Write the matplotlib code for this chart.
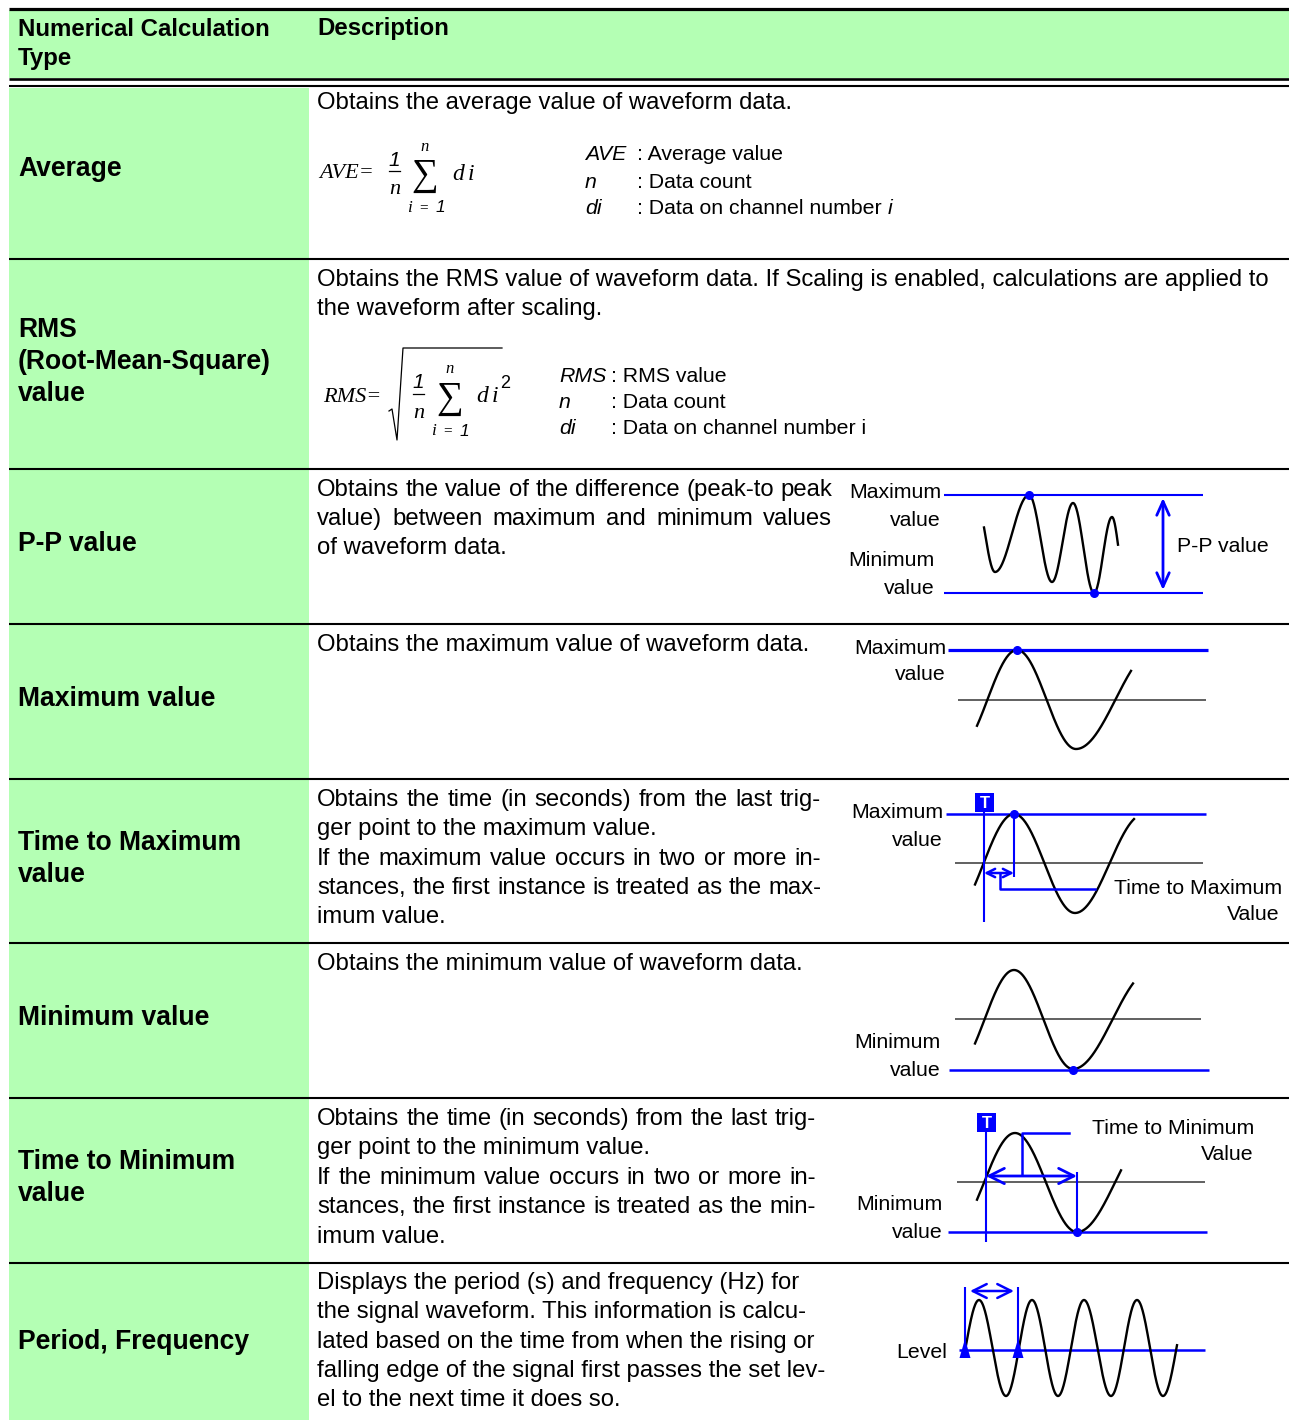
import numpy as np
import matplotlib
matplotlib.use('Agg')
import matplotlib.pyplot as plt
from matplotlib.patches import Rectangle

W, H = 1289, 1420
GREEN = '#b4ffb4'
BLUE = '#0000ff'
GRAY = '#606060'
SANS = 'Liberation Sans'
SERIF = ['Liberation Serif', 'DejaVu Serif']
DY = 2  # vertical nudge for centred text

# ---------------- table content ----------------
header_left = ["Numerical Calculation", "Type"]
header_left_y = [27, 56]
header_right = "Description"

row_bounds = [87, 258.5, 468.5, 623.5, 778.5, 942.5, 1097.5, 1262.5, 1420]

row_labels = [["Average"], ["RMS", "(Root-Mean-Square)", "value"], ["P-P value"],
              ["Maximum value"], ["Time to Maximum", "value"], ["Minimum value"],
              ["Time to Minimum", "value"], ["Period, Frequency"]]
row_label_y = [[167], [328, 360, 392], [542], [697], [841, 873], [1016],
               [1160, 1192], [1340]]

desc_text = [
    "Obtains the average value of waveform data.",
    "Obtains the RMS value of waveform data. If Scaling is enabled, calculations are applied to",
    "the waveform after scaling.",
    "Obtains the value of the difference (peak-to peak",
    "value) between maximum and minimum values",
    "of waveform data.",
    "Obtains the maximum value of waveform data.",
    "Obtains the time (in seconds) from the last trig-",
    "ger point to the maximum value.",
    "If the maximum value occurs in two or more in-",
    "stances, the first instance is treated as the max-",
    "imum value.",
    "Obtains the minimum value of waveform data.",
    "Obtains the time (in seconds) from the last trig-",
    "ger point to the minimum value.",
    "If the minimum value occurs in two or more in-",
    "stances, the first instance is treated as the min-",
    "imum value.",
    "Displays the period (s) and frequency (Hz) for",
    "the signal waveform. This information is calcu-",
    "lated based on the time from when the rising or",
    "falling edge of the signal first passes the set lev-",
    "el to the next time it does so.",
]
desc_y = [101, 278, 307, 488, 517, 546, 643, 798, 827, 857, 886, 915, 962,
          1117, 1146, 1176, 1205, 1235, 1281, 1310, 1340, 1369, 1398]
desc_right = [None, None, None, 832, 832, None, None, 821, None, 821, 821, None,
              None, 816, None, 816, 816, None, None, None, None, None, None]

ave_legend_sym = ["AVE", "n", "di"]
ave_legend_txt = [": Average value", ": Data count", ": Data on channel number"]
ave_legend_y = [153, 181, 207]
rms_legend_sym = ["RMS", "n", "di"]
rms_legend_txt = [": RMS value", ": Data count", ": Data on channel number i"]
rms_legend_y = [374, 401, 427]

# ---------------- diagram waveform key points (extrema) ----------------
pp_ex = [975, 995, 1029, 1052, 1073, 1094, 1112, 1125]
pp_ey = [495, 572, 495, 582, 503, 593, 517, 580]
pp_clip = [984, 1118]
max_ex = [958, 1017, 1076, 1155]
max_ey = [749, 650, 749, 650]
max_clip = [977, 1131]
tmax_ex = [953, 1014, 1075, 1144]
tmax_ey = [913, 814, 913, 814]
tmax_clip = [975, 1134]
min_ex = [955, 1014, 1073, 1152]
min_ey = [1069, 970, 1069, 970]
min_clip = [975, 1133]
tmin_ex = [953, 1015, 1077, 1153]
tmin_ey = [1232, 1133, 1232, 1133]
tmin_clip = [977, 1121]
per_ex = [952, 979, 1006, 1032, 1058, 1084, 1111, 1137, 1163, 1190]
per_ey = [1396, 1300, 1396, 1300, 1396, 1300, 1396, 1300, 1396, 1300]
per_clip = [965, 1177]

# ---------------- figure ----------------
fig = plt.figure(figsize=(W / 100, H / 100), dpi=100)
ax = fig.add_axes([0, 0, 1, 1])
ax.set_xlim(0, W)
ax.set_ylim(H, 0)
ax.axis('off')
renderer = fig.canvas.get_renderer()

BODY = 17.2
LAB = 19.1
HEAD = 17.3
DIAG = 15.3
LEG = 15.3

# header
ax.add_patch(Rectangle((9, 10), W - 9, 68, facecolor=GREEN, edgecolor='none'))
ax.plot([9, W], [8.5, 8.5], color='black', lw=2.3, solid_capstyle='butt')
ax.plot([9, W], [79, 79], color='black', lw=1.9, solid_capstyle='butt')
ax.plot([9, W], [86.3, 86.3], color='black', lw=1.5, solid_capstyle='butt')
for t, y in zip(header_left, header_left_y):
    ax.text(18, y + DY, t, fontsize=HEAD, fontweight='bold', family=SANS, va='center', ha='left')
ax.text(317, header_left_y[0] + DY, header_right, fontsize=HEAD, fontweight='bold', family=SANS,
        va='center', ha='left')

# rows
for i in range(len(row_labels)):
    top, bot = row_bounds[i], row_bounds[i + 1]
    ax.add_patch(Rectangle((9, top + 1), 300, bot - top - 1, facecolor=GREEN, edgecolor='none'))
    for t, y in zip(row_labels[i], row_label_y[i]):
        ax.text(18, y + DY, t, fontsize=LAB, fontweight='bold', family=SANS, va='center', ha='left')
for b in row_bounds[1:-1]:
    ax.plot([9, W], [b, b], color='black', lw=1.5, solid_capstyle='butt')


def text_width(s, **kw):
    t = ax.text(0, 0, s, **kw)
    w = t.get_window_extent(renderer).width
    t.remove()
    return w


def draw_line(x, y, s, right, **kw):
    if right is None:
        ax.text(x, y, s, **kw)
        return
    words = s.split(' ')
    widths = [text_width(w, **kw) for w in words]
    gap = (right - x - sum(widths)) / (len(words) - 1)
    cx = x
    for w, wd in zip(words, widths):
        ax.text(cx, y, w, **kw)
        cx += wd + gap


for s, y, r in zip(desc_text, desc_y, desc_right):
    draw_line(317, y + DY, s, r, fontsize=BODY, family=SANS, va='center', ha='left')

# ---------------- formulas ----------------
def serif_it(x, y, s, size, ha='center'):
    ax.text(x, y + DY, s, fontsize=size, family=SERIF, style='italic', va='center', ha=ha)


def sans_it(x, y, s, size, ha='center'):
    ax.text(x, y + DY, s, fontsize=size, family=SANS, style='italic', va='center', ha=ha)


def plain(x, y, s, size, ha='center', family=SERIF):
    ax.text(x, y + DY, s, fontsize=size, family=family, va='center', ha=ha)


# Average
serif_it(319, 172, "AVE=", 16, ha='left')
sans_it(394, 158, "1", 15)
ax.plot([389, 400], [171, 171], color='black', lw=0.9)
serif_it(395, 188, "n", 16)
plain(425, 174, "\u2211", 27)
serif_it(425, 145, "n", 12)
serif_it(409, 206, "i", 12.5)
plain(424, 206, "=", 11)
sans_it(440, 206, "1", 12.5)
serif_it(452, 172, "d", 17, ha='left')
serif_it(468, 172, "i", 17, ha='left')

for s, t, y in zip(ave_legend_sym, ave_legend_txt, ave_legend_y):
    sans_it(585, y, s, LEG, ha='left')
    plain(637, y, t, LEG, ha='left', family=SANS)
wlast = text_width(ave_legend_txt[2] + " ", fontsize=LEG, family=SANS)
sans_it(637 + wlast, ave_legend_y[2], "i", LEG, ha='left')

# RMS
serif_it(323, 395, "RMS=", 16, ha='left')
ax.plot([389, 392, 397, 403, 502], [411, 409, 440, 348, 348], color='black', lw=0.9)
sans_it(418, 381, "1", 15)
ax.plot([413, 424], [394, 394], color='black', lw=0.9)
serif_it(419, 411, "n", 16)
plain(450, 397, "\u2211", 27)
serif_it(450, 367, "n", 12)
serif_it(433, 429, "i", 12.5)
plain(448, 429, "=", 11)
sans_it(464, 429, "1", 12.5)
serif_it(476, 395, "d", 17, ha='left')
serif_it(492, 395, "i", 17, ha='left')
plain(505, 382, "2", 13, family=SANS)

for s, t, y in zip(rms_legend_sym, rms_legend_txt, rms_legend_y):
    sans_it(559, y, s, LEG, ha='left')
    plain(611, y, t, LEG, ha='left', family=SANS)

# ---------------- diagrams ----------------
def wave(ex, ey, clip, n=500):
    ex = np.asarray(ex, float)
    ey = np.asarray(ey, float)
    xs = np.linspace(clip[0], clip[1], n)
    idx = np.clip(np.searchsorted(ex, xs) - 1, 0, len(ex) - 2)
    t = (xs - ex[idx]) / (ex[idx + 1] - ex[idx])
    ys = ey[idx] + (ey[idx + 1] - ey[idx]) * (1 - np.cos(np.pi * t)) / 2
    ax.plot(xs, ys, color='black', lw=1.7, zorder=3)


def hline(x0, x1, y, color=BLUE, lw=1.5):
    ax.plot([x0, x1], [y, y], color=color, lw=lw, solid_capstyle='butt', zorder=2)


def vline(x, y0, y1, lw=1.5):
    ax.plot([x, x], [y0, y1], color=BLUE, lw=lw, solid_capstyle='butt', zorder=4)


def dot(x, y):
    ax.plot([x], [y], 'o', color=BLUE, ms=5.5, zorder=5)


def darrow(x0, y0, x1, y1, hl, hw, lw=1.8):
    ax.annotate('', xy=(x1, y1), xytext=(x0, y0),
                arrowprops=dict(arrowstyle='<->,head_length=%g,head_width=%g' % (hl, hw),
                                color=BLUE, lw=lw, shrinkA=0, shrinkB=0), zorder=5)


def dtext(x, y, s, ha):
    ax.text(x, y + DY, s, fontsize=DIAG, family=SANS, va='center', ha=ha)


def tbox(x, y):
    ax.add_patch(Rectangle((x, y), 19, 19, facecolor=BLUE, edgecolor='none', zorder=5))
    ax.text(x + 9.5, y + 10, "T", fontsize=12, fontweight='bold', color='white',
            family=SANS, va='center', ha='center', zorder=6)


# P-P
hline(944, 1203, 495)
hline(944, 1203, 593)
wave(pp_ex, pp_ey, pp_clip)
dot(1029, 495)
dot(1094, 593)
darrow(1163, 498, 1163, 590, 1.0, 0.45, lw=2.0)
dtext(941, 491, "Maximum", 'right')
dtext(941, 518, "value", 'right')
dtext(935, 559, "Minimum", 'right')
dtext(935, 586, "value", 'right')
dtext(1177, 545, "P-P value", 'left')

# Maximum
hline(958, 1206, 700, color=GRAY, lw=1.4)
hline(948, 1208, 650, lw=2.3)
wave(max_ex, max_ey, max_clip)
dot(1017, 650)
dtext(946, 646, "Maximum", 'right')
dtext(946, 673, "value", 'right')

# Time to maximum
hline(955, 1203, 863, color=GRAY, lw=1.4)
hline(946, 1206, 814, lw=1.8)
wave(tmax_ex, tmax_ey, tmax_clip)
vline(984, 812, 922)
vline(1014, 814, 877)
dot(1014, 814)
tbox(975, 793)
darrow(984, 873, 1014, 873, 0.6, 0.3, lw=1.8)
ax.plot([1000, 1000, 1095], [874, 889, 889], color=BLUE, lw=1.8, zorder=4)
dtext(943, 811, "Maximum", 'right')
dtext(943, 838, "value", 'right')
dtext(1114, 886, "Time to Maximum", 'left')
dtext(1280, 912, "Value", 'right')

# Minimum
hline(955, 1201, 1019, color=GRAY, lw=1.4)
hline(949, 1209, 1070, lw=1.8)
wave(min_ex, min_ey, min_clip)
dot(1073, 1070)
dtext(941, 1041, "Minimum", 'right')
dtext(941, 1068, "value", 'right')

# Time to minimum
hline(957, 1205, 1182, color=GRAY, lw=1.4)
hline(948, 1207, 1232, lw=1.8)
wave(tmin_ex, tmin_ey, tmin_clip)
vline(986, 1132, 1242)
vline(1077, 1172, 1232)
dot(1077, 1232)
tbox(977, 1113)
darrow(986, 1176, 1077, 1176, 1.1, 0.55, lw=2.0)
ax.plot([1022, 1022, 1069], [1175, 1133, 1133], color=BLUE, lw=1.8, zorder=4)
dtext(943, 1202, "Minimum", 'right')
dtext(943, 1230, "value", 'right')
dtext(1092, 1126, "Time to Minimum", 'left')
dtext(1254, 1152, "Value", 'right')

# Period
hline(959, 1205, 1350, lw=1.8)
wave(per_ex, per_ey, per_clip)
vline(965, 1287, 1357)
vline(1018, 1287, 1357)
for xv in (965, 1018):
    ax.fill([xv - 5.5, xv + 5.5, xv], [1358, 1358, 1339], color=BLUE, zorder=5, lw=0)
darrow(970, 1291, 1014, 1291, 1.0, 0.5, lw=1.8)
dtext(947, 1350, "Level", 'right')

fig.savefig('out.png', dpi=100)
